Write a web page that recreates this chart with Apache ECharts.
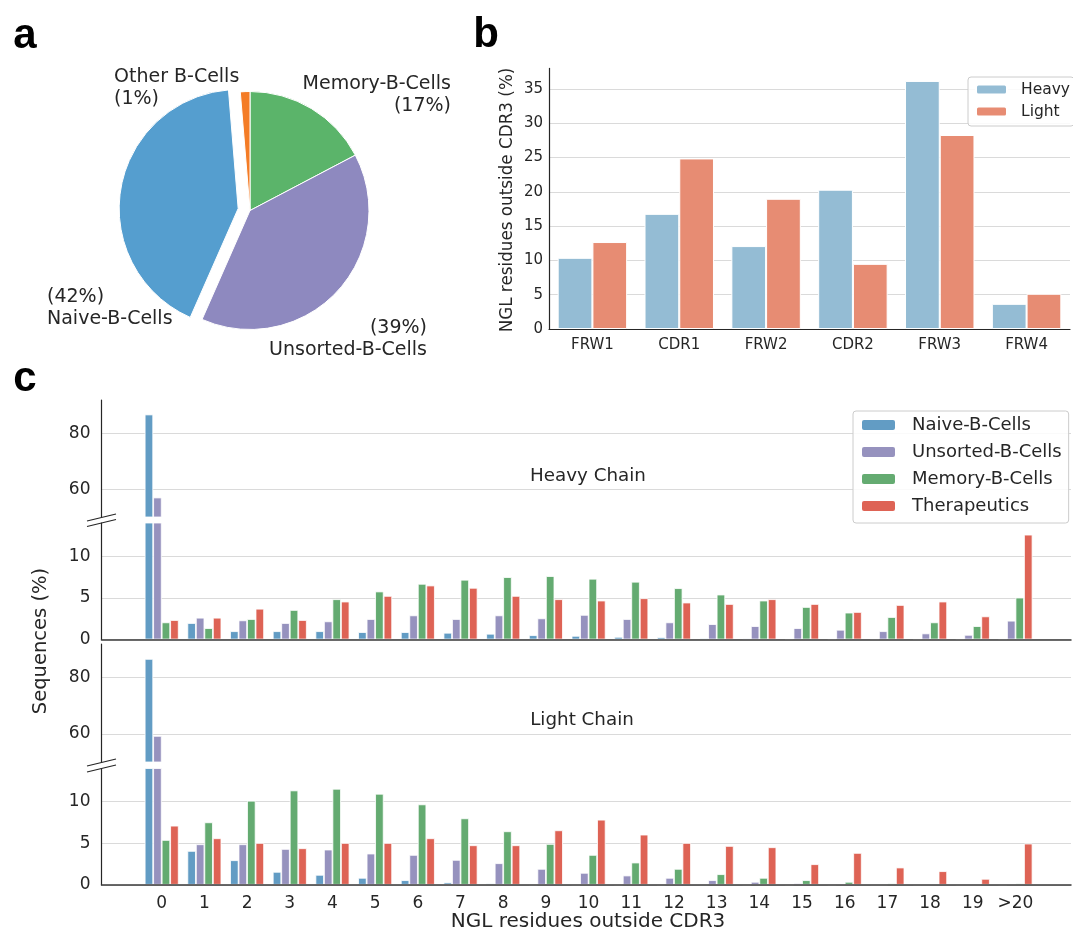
<!DOCTYPE html>
<html>
<head>
<meta charset="utf-8">
<script src="https://cdn.jsdelivr.net/npm/echarts@6/dist/echarts.min.js"></script>
<style>
html,body{margin:0;padding:0;background:#fff;}
#chart{width:1073px;height:935px;}
</style>
</head>
<body>
<div id="chart"></div>
<script>
// ---------- DATA ----------
// Panel a: pie
const pieNames = ['Memory-B-Cells', 'Unsorted-B-Cells', 'Naive-B-Cells', 'Other B-Cells'];
const pieValues = [17.3, 39.3, 42.1, 1.3];
const explodedName = 'Naive-B-Cells';

// Panel b: NGL residues per region
const regions = ['FRW1', 'CDR1', 'FRW2', 'CDR2', 'FRW3', 'FRW4'];
const regionHeavy = [10.38, 16.79, 12.09, 20.31, 36.17, 3.67];
const regionLight = [12.68, 24.87, 18.99, 9.5, 28.29, 5.14];

// Panel c: number of NGL residues outside CDR3
const nglCounts = [0, 1, 2, 3, 4, 5, 6, 7, 8, 9, 10, 11, 12, 13, 14, 15, 16, 17, 18, 19, 20];
const nglLabels = ['0', '1', '2', '3', '4', '5', '6', '7', '8', '9', '10', '11', '12', '13', '14', '15', '16', '17', '18', '19', '>20'];
const cellTypes = ['Naive-B-Cells', 'Unsorted-B-Cells', 'Memory-B-Cells', 'Therapeutics'];

const heavyNaive    = [86.8, 1.98, 1.0, 1.0, 1.0, 0.89, 0.89, 0.81, 0.69, 0.52, 0.44, 0.32, 0.28, 0.16, 0.12, 0, 0, 0, 0, 0, 0];
const heavyUnsorted = [57.0, 2.62, 2.3, 1.98, 2.18, 2.46, 2.9, 2.46, 2.9, 2.54, 2.96, 2.46, 2.06, 1.85, 1.61, 1.37, 1.17, 1.0, 0.73, 0.56, 2.26];
const heavyMemory   = [2.06, 1.37, 2.46, 3.55, 4.84, 5.77, 6.69, 7.18, 7.5, 7.62, 7.3, 6.94, 6.17, 5.4, 4.68, 3.91, 3.23, 2.7, 2.06, 1.61, 5.04];
const heavyTher     = [2.34, 2.62, 3.7, 2.34, 4.56, 5.24, 6.49, 6.21, 5.24, 4.84, 4.68, 4.96, 4.44, 4.27, 4.84, 4.27, 3.31, 4.15, 4.56, 2.78, 12.6];

const lightNaive    = [86.7, 4.08, 2.96, 1.56, 1.2, 0.84, 0.56, 0.28, 0.16, 0, 0, 0, 0, 0, 0, 0, 0, 0, 0, 0, 0];
const lightUnsorted = [59.3, 4.88, 4.88, 4.32, 4.24, 3.76, 3.6, 3.0, 2.6, 1.92, 1.44, 1.12, 0.84, 0.56, 0.36, 0.2, 0.12, 0, 0, 0, 0.12];
const lightMemory   = [5.4, 7.52, 10.12, 11.36, 11.56, 10.96, 9.68, 8.0, 6.44, 4.92, 3.6, 2.68, 1.92, 1.28, 0.84, 0.56, 0.36, 0.16, 0.12, 0, 0.16];
const lightTher     = [7.12, 5.6, 5.04, 4.4, 5.04, 5.04, 5.6, 4.76, 4.76, 6.56, 7.84, 6.04, 5.04, 4.68, 4.52, 2.48, 3.84, 2.08, 1.64, 0.72, 4.96];

const upperTicks = [60, 80];
const lowerTicks = [0, 5, 10];
const regionTicks = [0, 5, 10, 15, 20, 25, 30, 35];

// ---------- STYLE ----------
const FONT = 'DejaVu Sans';
const TXT = '#262626';
const GRIDC = '#dadada';
const pieColors = ['#5bb46a', '#8e89bf', '#559ecf', '#f47c26'];
const cellColors = ['#629cc4', '#9692be', '#64ab71', '#de6355'];
const heavyColor = '#94bcd4', lightColor = '#e78c73';
const NONE = 'rgba(0,0,0,0)';

// label anchor layout for pie (x, y, align), percent-first flag
const pieLabelPos = [
  {x: 451, y: 95, align: 'right', pctFirst: false},
  {x: 427, y: 339, align: 'right', pctFirst: true},
  {x: 47, y: 308, align: 'left', pctFirst: true},
  {x: 114, y: 88, align: 'left', pctFirst: false}
];
const pieCenter = [250, 210.5], pieRadius = 119, explodeDist = 12;

// explode direction from data (clockwise from 90 deg)
const pieTotal = pieValues.reduce((a, b) => a + b, 0);
const exIdx = pieNames.indexOf(explodedName);
const before = pieValues.slice(0, exIdx).reduce((a, b) => a + b, 0);
const midRad = (90 - 360 * (before + pieValues[exIdx] / 2) / pieTotal) * Math.PI / 180;
const exCenter = [pieCenter[0] + explodeDist * Math.cos(midRad), pieCenter[1] - explodeDist * Math.sin(midRad)];

const chart = echarts.init(document.getElementById('chart'), null, {renderer: 'canvas'});

// grids for panel c: [top, height]
const cGrids = [[400, 117], [523, 116.5], [644, 118], [768.5, 116.3]];
const cRanges = [[50, 92], [0, 14], [50, 92], [0, 14]];
const chainData = [
  [heavyNaive, heavyUnsorted, heavyMemory, heavyTher],
  [heavyNaive, heavyUnsorted, heavyMemory, heavyTher],
  [lightNaive, lightUnsorted, lightMemory, lightTher],
  [lightNaive, lightUnsorted, lightMemory, lightTher]
];

const grids = [{left: 549, right: 3, top: 68.4, height: 260.6}];
const xAxes = [{
  type: 'category', gridIndex: 0, data: regions, z: 5,
  axisLine: {lineStyle: {color: TXT, width: 1.2}},
  axisTick: {show: false},
  axisLabel: {color: TXT, fontSize: 15, fontFamily: FONT, margin: 9}
}];
const yAxes = [{
  type: 'value', gridIndex: 0, min: 0, max: 38,
  axisLine: {show: true, lineStyle: {color: TXT, width: 1.2}},
  axisTick: {show: false, customValues: regionTicks},
  axisLabel: {customValues: regionTicks, color: TXT, fontSize: 15, fontFamily: FONT, margin: 6},
  splitLine: {show: true, lineStyle: {color: GRIDC, width: 1.2}}
}];

const pieLabel = {
  show: true, position: 'outside', color: TXT, fontSize: 19, fontFamily: FONT, lineHeight: 22.5, overflow: 'none',
  formatter: p => {
    const pct = '(' + Math.round(p.percent) + '%)';
    return pieLabelPos[p.dataIndex].pctFirst ? pct + '\n' + p.name : p.name + '\n' + pct;
  }
};

const series = [
  {
    type: 'pie', center: pieCenter, radius: pieRadius, startAngle: 90, clockwise: true, silent: true,
    data: pieNames.map((n, i) => ({
      name: n, value: pieValues[i],
      itemStyle: n === explodedName ? {color: NONE, borderWidth: 0} : {color: pieColors[i], borderColor: '#fff', borderWidth: 1}
    })),
    label: pieLabel,
    labelLine: {show: false},
    labelLayout: p => {
      const L = pieLabelPos[p.dataIndex];
      return {x: L.x, y: L.y, align: L.align, verticalAlign: 'middle'};
    }
  },
  {
    type: 'pie', center: exCenter, radius: pieRadius, startAngle: 90, clockwise: true, silent: true,
    data: pieNames.map((n, i) => ({
      name: n, value: pieValues[i],
      itemStyle: n === explodedName ? {color: pieColors[i], borderColor: '#fff', borderWidth: 1} : {color: NONE, borderWidth: 0}
    })),
    label: {show: false},
    labelLine: {show: false}
  },
  {
    name: 'Heavy', type: 'bar', xAxisIndex: 0, yAxisIndex: 0, data: regionHeavy,
    barGap: '0%', barCategoryGap: '20%',
    itemStyle: {color: heavyColor, borderColor: '#fff', borderWidth: 1}
  },
  {
    name: 'Light', type: 'bar', xAxisIndex: 0, yAxisIndex: 0, data: regionLight,
    barGap: '0%', barCategoryGap: '20%',
    itemStyle: {color: lightColor, borderColor: '#fff', borderWidth: 1}
  }
];

cGrids.forEach((g, gi) => {
  const idx = gi + 1;
  grids.push({left: 101.5, right: 2, top: g[0], height: g[1]});
  const isLower = gi % 2 === 1;
  const isBottom = gi === 3;
  xAxes.push({
    type: 'value', gridIndex: idx, min: -1.41, max: 21.3, z: 5,
    axisLine: {show: isLower, onZero: false, lineStyle: {color: '#3a3a3a', width: 1.5}},
    axisTick: {show: false, customValues: nglCounts},
    axisLabel: {
      show: isBottom, customValues: nglCounts, color: TXT, fontSize: 17, fontFamily: FONT, margin: 10,
      formatter: v => nglLabels[nglCounts.indexOf(v)]
    },
    splitLine: {show: false}
  });
  const ticks = isLower ? lowerTicks : upperTicks;
  yAxes.push({
    type: 'value', gridIndex: idx, min: cRanges[gi][0], max: cRanges[gi][1],
    axisLine: {show: true, onZero: false, lineStyle: {color: TXT, width: 1.2}},
    axisTick: {show: false, customValues: ticks},
    axisLabel: {customValues: ticks, color: TXT, fontSize: 17, fontFamily: FONT, margin: 11},
    splitLine: {show: true, lineStyle: {color: GRIDC, width: 1.2}}
  });
  chainData[gi].forEach((arr, si) => {
    series.push({
      name: cellTypes[si], type: 'bar', xAxisIndex: idx, yAxisIndex: idx,
      data: nglCounts.map((c, k) => [c, arr[k]]),
      barWidth: 8.5, barGap: '0%', clip: true,
      itemStyle: {color: cellColors[si], borderColor: '#fff', borderWidth: 0.8}
    });
  });
});

// break marks (decoration)
function breakMark(cx, cy) {
  return {type: 'line', shape: {x1: cx - 14.5, y1: cy + 3.5, x2: cx + 14.5, y2: cy - 3.5},
          style: {stroke: TXT, lineWidth: 1.2}, z: 100};
}

const option = {
  backgroundColor: '#fff',
  animation: false,
  grid: grids,
  xAxis: xAxes,
  yAxis: yAxes,
  legend: [
    {
      data: ['Heavy', 'Light'], orient: 'vertical', left: 968, top: 77,
      itemWidth: 31, itemHeight: 10, itemGap: 5, selectedMode: false,
      padding: [4, 4, 6, 7],
      backgroundColor: 'rgba(255,255,255,0.85)', borderColor: '#cccccc', borderWidth: 1, borderRadius: 3,
      textStyle: {color: TXT, fontSize: 15.5, fontFamily: FONT, lineHeight: 17, padding: [0, 0, 0, 9]}
    },
    {
      data: cellTypes, orient: 'vertical', left: 853, top: 411,
      itemWidth: 35, itemHeight: 12, itemGap: 7, selectedMode: false,
      padding: [4, 7, 7, 7],
      backgroundColor: 'rgba(255,255,255,0.85)', borderColor: '#cccccc', borderWidth: 1, borderRadius: 3,
      textStyle: {color: TXT, fontSize: 18, fontFamily: FONT, lineHeight: 20, padding: [0, 0, 0, 11]}
    }
  ],
  graphic: [
    {type: 'text', x: 25, y: 36, style: {text: 'a', font: 'bold 42px "Liberation Sans", Arial', fill: '#000', align: 'center', verticalAlign: 'middle'}},
    {type: 'text', x: 486, y: 35, style: {text: 'b', font: 'bold 42px "Liberation Sans", Arial', fill: '#000', align: 'center', verticalAlign: 'middle'}},
    {type: 'text', x: 25, y: 379, style: {text: 'c', font: 'bold 42px "Liberation Sans", Arial', fill: '#000', align: 'center', verticalAlign: 'middle'}},
    {type: 'text', x: 588, y: 476, style: {text: 'Heavy Chain', font: '18.3px "DejaVu Sans"', fill: TXT, align: 'center', verticalAlign: 'middle'}},
    {type: 'text', x: 582, y: 720, style: {text: 'Light Chain', font: '18.3px "DejaVu Sans"', fill: TXT, align: 'center', verticalAlign: 'middle'}},
    {type: 'text', x: 508, y: 200, rotation: Math.PI / 2, style: {text: 'NGL residues outside CDR3 (%)', font: '16.8px "DejaVu Sans"', fill: TXT, align: 'center', verticalAlign: 'middle'}},
    {type: 'text', x: 41, y: 641, rotation: Math.PI / 2, style: {text: 'Sequences (%)', font: '19.5px "DejaVu Sans"', fill: TXT, align: 'center', verticalAlign: 'middle'}},
    {type: 'text', x: 588, y: 922, style: {text: 'NGL residues outside CDR3', font: '20px "DejaVu Sans"', fill: TXT, align: 'center', verticalAlign: 'middle'}},
    breakMark(101.5, 517.5),
    breakMark(101.5, 523),
    breakMark(101.5, 762.5),
    breakMark(101.5, 768.5)
  ],
  series: series
};
chart.setOption(option);
</script>
</body>
</html>
